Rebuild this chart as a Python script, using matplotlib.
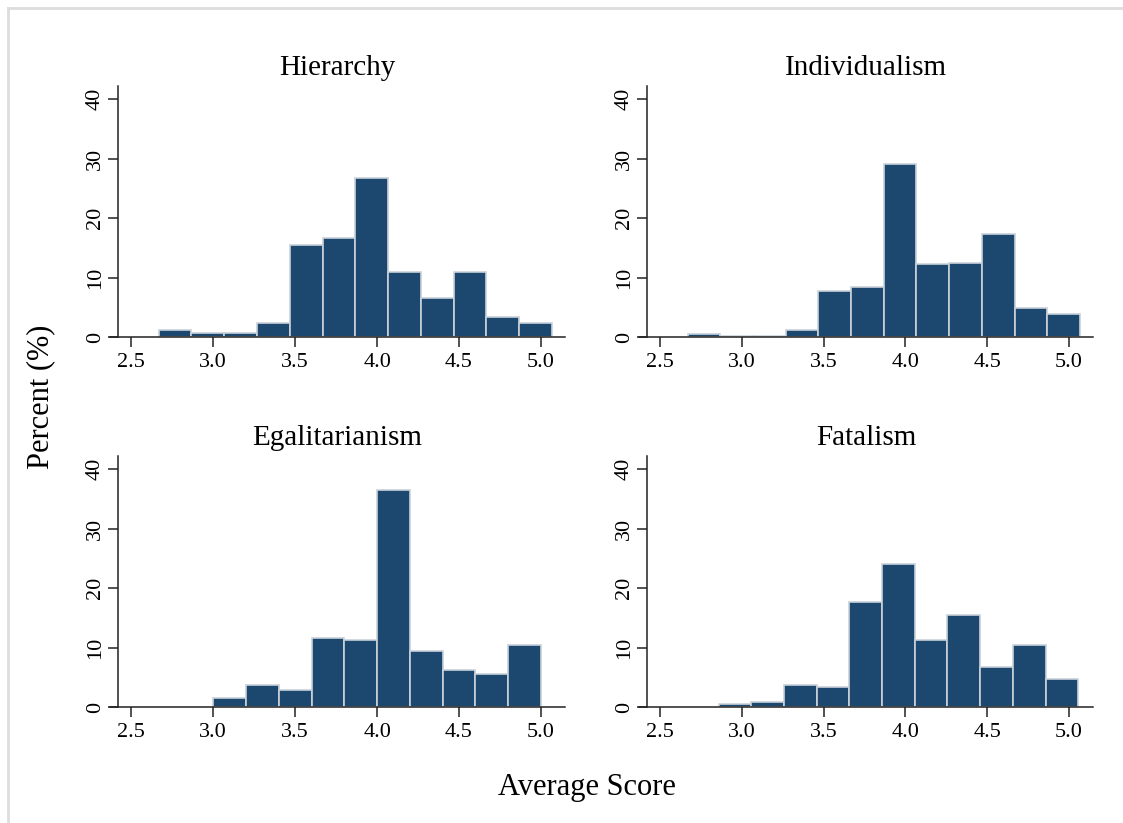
import matplotlib
matplotlib.use("Agg")
import matplotlib.pyplot as plt
from matplotlib.lines import Line2D
import numpy as np

plt.rcParams['font.family'] = ['Liberation Serif', 'DejaVu Serif']

# panel titles and data (percent per bin, bin width 0.2)
TITLES = ["Hierarchy", "Individualism", "Egalitarianism", "Fatalism"]
BIN_WIDTH = 0.2
hier_start = 2.667
hier_pct = [1.1, 0.7, 0.7, 2.4, 15.4, 16.7, 26.8, 11.0, 6.5, 11.0, 3.4, 2.4]
indiv_start = 2.667
indiv_pct = [0.5, 0.1, 0.1, 1.1, 7.8, 8.4, 29.1, 12.3, 12.5, 17.4, 4.9, 3.9]
egal_start = 3.0
egal_pct = [1.5, 3.7, 2.8, 11.6, 11.3, 36.4, 9.4, 6.2, 5.6, 10.4]
fatal_start = 2.857
fatal_pct = [0.45, 0.85, 3.7, 3.3, 17.6, 24.0, 11.3, 15.5, 6.8, 10.4, 4.7]

X_TICKS = [2.5, 3.0, 3.5, 4.0, 4.5, 5.0]
Y_TICKS = [0, 10, 20, 30, 40]

BAR_COLOR = '#1c4870'
EDGE_COLOR = '#c9d1d9'

fig = plt.figure(figsize=(11.23, 8.23), dpi=100)
W, H = 1123, 823

# axes boxes in pixels: (left, top, right, bottom)
boxes = [(110, 86, 565, 337), (639, 86, 1093, 337),
         (110, 456, 565, 707), (639, 456, 1093, 707)]
panels = [(hier_start, hier_pct), (indiv_start, indiv_pct),
          (egal_start, egal_pct), (fatal_start, fatal_pct)]

for (l, t, r, b), (start, pct), title in zip(boxes, panels, TITLES):
    ax = fig.add_axes([l / W, 1 - b / H, (r - l) / W, (b - t) / H])
    lefts = start + BIN_WIDTH * np.arange(len(pct))
    ax.bar(lefts, pct, width=BIN_WIDTH, align='edge', color=BAR_COLOR,
           edgecolor=EDGE_COLOR, linewidth=1.2, zorder=2)
    ax.set_xlim(2.37, 5.147)
    ax.set_ylim(0, 42.2)
    ax.spines['top'].set_visible(False)
    ax.spines['right'].set_visible(False)
    ax.spines['left'].set_position(('data', 2.42))
    for s in ('left', 'bottom'):
        ax.spines[s].set_linewidth(1.1)
        ax.spines[s].set_color('#222222')
        ax.spines[s].set_zorder(3)
    ax.set_xticks(X_TICKS)
    ax.set_xticklabels([f"{v:.1f}" for v in X_TICKS])
    ax.set_yticks(Y_TICKS)
    ax.set_yticklabels([str(v) for v in Y_TICKS], rotation=90, va='center')
    ax.tick_params(axis='both', direction='out', length=7.5, width=1.1,
                   color='#222222', labelsize=16)
    ax.tick_params(axis='x', pad=4)
    ax.tick_params(axis='y', pad=2)
    fig.text((l + r) / 2 / W, 1 - (t - 18) / H, title, ha='center',
             va='center', fontsize=21)

fig.text(41 / W, 1 - 397 / H, "Percent (%)", rotation=90, ha='center',
         va='center', fontsize=22)
fig.text(587 / W, 1 - 787 / H, "Average Score", ha='center', va='center',
         fontsize=22)

# thin screenshot frame at top and left
fig.add_artist(Line2D([8 / W, 1], [1 - 8 / H, 1 - 8 / H], color='#dddddd',
                      linewidth=2, transform=fig.transFigure))
fig.add_artist(Line2D([8 / W, 8 / W], [0, 1 - 8 / H], color='#dddddd',
                      linewidth=2, transform=fig.transFigure))

fig.savefig("out.png", dpi=100)
